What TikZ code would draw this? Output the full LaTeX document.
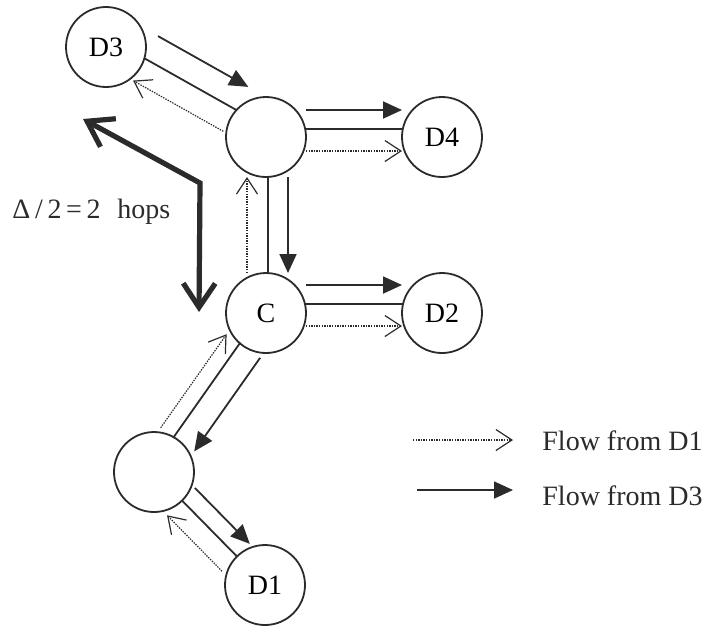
\documentclass[tikz,border=0pt]{standalone}
\usepackage{fontspec}
\setmainfont{Liberation Serif}
\usetikzlibrary{positioning,arrows.meta,calc}
\definecolor{ink}{HTML}{2B2B2B}

\begin{document}
\begin{tikzpicture}[x=0.5pt,y=-0.5pt,
  node distance=48pt,
  site/.style={circle,draw=ink,line width=0.9pt,fill=white,minimum size=40pt,
               inner sep=0pt,outer sep=0pt,font=\fontsize{14}{16}\selectfont},
  link/.style={ink,line width=0.9pt},
  fthree/.style={-{Triangle[length=9.5pt,width=8.5pt]},ink,line width=0.9pt},
  fone/.style={-{Straight Barb[length=8pt,width=10.5pt]},ink,line width=0.6pt,
               dash pattern=on 0.7pt off 0.6pt},
  hop/.style={{Straight Barb[length=12pt,width=16pt]}-{Straight Barb[length=12pt,width=16pt]},
              ink,line width=2.6pt},
  lbl/.style={inner sep=0pt,text=ink,font=\fontsize{14}{16}\selectfont}]
\useasboundingbox (0,0) rectangle (712,629);
% sites
\node[site] (up) at (266,137) {};
\node[site,right=of up] (d4) {D4};
\node[site,below=of up] (c) {C};
\node[site,right=of c] (d2) {D2};
\node[site] (d3) at (106,47) {D3};
\node[site] (lo) at (154,472) {};
\node[site] (d1) at (265,585) {D1};
% links
\draw[link] ($(d3)!19.5pt!(up)!4.5pt!90:(up)$) -- ($(up)!19.5pt!(d3)!4.5pt!-90:(d3)$);
\draw[link] ($(up)!19.5pt!(d4)!4pt!90:(d4)$) -- ($(d4)!19.5pt!(up)!4pt!-90:(up)$);
\draw[link] ($(up)!19.5pt!(c)!1pt!90:(c)$) -- ($(c)!19.5pt!(up)!1pt!-90:(up)$);
\draw[link] ($(c)!19.5pt!(d2)!4.5pt!90:(d2)$) -- ($(d2)!19.5pt!(c)!4.5pt!-90:(c)$);
\draw[link] ($(c)!19.5pt!(lo)!2pt!-90:(lo)$) -- ($(lo)!19.5pt!(c)!2pt!90:(c)$);
\draw[link] (lo) -- (d1);
% flow from D3
\draw[fthree] ($(d3)!20pt!(up)!17.5pt!90:(up)$) -- ($(up)!20pt!(d3)!17.5pt!-90:(d3)$);
\draw[fthree] ($(up)!20pt!(d4)!13.5pt!90:(d4)$) -- ($(d4)!20pt!(up)!13.5pt!-90:(up)$);
\draw[fthree] ($(up)!20pt!(c)!11pt!90:(c)$) -- ($(c)!20pt!(up)!11pt!-90:(up)$);
\draw[fthree] ($(c)!20pt!(d2)!14pt!90:(d2)$) -- ($(d2)!20pt!(c)!14pt!-90:(c)$);
\draw[fthree] ($(c)!20pt!(lo)!10.5pt!90:(lo)$) -- ($(lo)!20pt!(c)!10.5pt!-90:(c)$);
\draw[fthree] ($(lo)!20pt!(d1)!9pt!90:(d1)$) -- ($(d1)!20pt!(lo)!9pt!-90:(lo)$);
% flow from D1
\draw[fone] ($(up)!20pt!(d3)!8pt!90:(d3)$) -- ($(d3)!20pt!(up)!8pt!-90:(up)$);
\draw[fone] ($(up)!20pt!(d4)!7pt!-90:(d4)$) -- ($(d4)!20pt!(up)!7pt!90:(up)$);
\draw[fone] ($(c)!20pt!(up)!9.5pt!90:(up)$) -- ($(up)!20pt!(c)!9.5pt!-90:(c)$);
\draw[fone] ($(c)!20pt!(d2)!6.5pt!-90:(d2)$) -- ($(d2)!20pt!(c)!6.5pt!90:(c)$);
\draw[fone] ($(lo)!20pt!(c)!10pt!90:(c)$) -- ($(c)!20pt!(lo)!10pt!-90:(lo)$);
\draw[fone] ($(d1)!20pt!(lo)!10.5pt!90:(lo)$) -- ($(lo)!20pt!(d1)!10.5pt!-90:(d1)$);
% hop distance
\coordinate (hA) at (83,119);
\coordinate (hB) at (200,183);
\coordinate (hC) at (199,312);
\draw[hop] (hA) -- (hB) -- (hC);
\node[lbl,anchor=base west] (hops) at (12,218)
  {Δ\,/\,2\,=\,2\hspace{0.6em}hops};
% legend
\node[lbl,anchor=base west] (l1) at (542,450) {Flow from D1};
\node[lbl,anchor=base west] (l3) at (542,505) {Flow from D3};
\coordinate (k1) at (413,440);
\coordinate (k3) at (417,490);
\draw[fone,shorten >=14.5pt] (k1) -- (k1 -| l1.west);
\draw[fthree,shorten >=14.5pt] (k3) -- (k3 -| l3.west);
\end{tikzpicture}
\end{document}
